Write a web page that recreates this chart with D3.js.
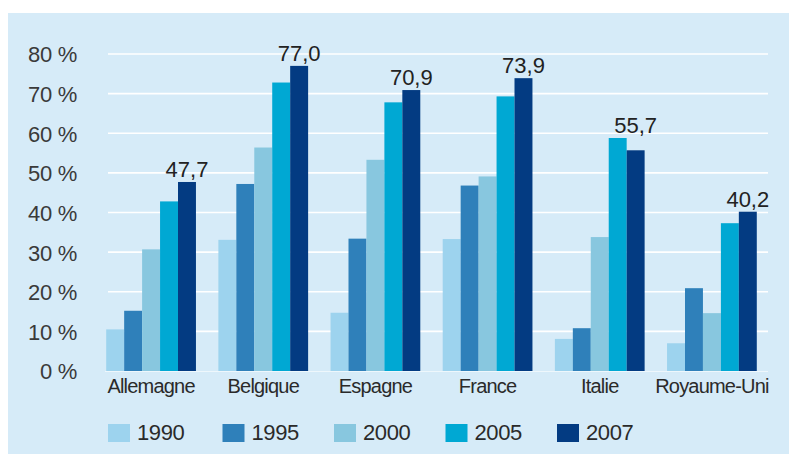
<!DOCTYPE html>
<html>
<head>
<meta charset="utf-8">
<script src="https://cdn.jsdelivr.net/npm/d3@7/dist/d3.min.js"></script>
<style>
  html, body { margin: 0; padding: 0; background: #ffffff; }
  svg { display: block; }
  text { font-family: "Liberation Sans", Arial, Helvetica, sans-serif; }
</style>
</head>
<body>
<div id="chart"></div>
<script>
const categories = ["Allemagne", "Belgique", "Espagne", "France", "Italie", "Royaume-Uni"];
const years = ["1990", "1995", "2000", "2005", "2007"];
const v1990 = [10.5, 33.1, 14.7, 33.3, 8.1, 7.0];
const v1995 = [15.2, 47.2, 33.4, 46.8, 10.8, 20.9];
const v2000 = [30.7, 56.4, 53.3, 49.1, 33.8, 14.6];
const v2005 = [42.8, 72.8, 67.8, 69.3, 58.8, 37.3];
const v2007 = [47.7, 77.0, 70.9, 73.9, 55.7, 40.2];
const valueLabels = ["47,7", "77,0", "70,9", "73,9", "55,7", "40,2"];
const yTicks = [0, 10, 20, 30, 40, 50, 60, 70, 80];
const colors = ["#9dd3ee", "#2f80ba", "#88c7df", "#00a8d3", "#033b82"];

const series = [v1990, v1995, v2000, v2005, v2007];
const W = 789, H = 454;

const svg = d3.select("#chart").append("svg").attr("width", W).attr("height", H);

// panel background
svg.append("rect").attr("x", 8).attr("y", 13).attr("width", W - 8).attr("height", H - 13).attr("fill", "#d6ebf8");

const y = d3.scaleLinear().domain([0, 80]).range([371, 54]);
const x0 = d3.scaleBand().domain(categories).range([95, 768]).paddingInner(0.2).paddingOuter(0.1);
const x1 = d3.scaleBand().domain(years).range([0, x0.bandwidth()]).padding(0);

// gridlines
svg.append("g").selectAll("line").data(yTicks.filter(t => t > 0)).join("line")
  .attr("x1", 108).attr("x2", 768)
  .attr("y1", d => y(d)).attr("y2", d => y(d))
  .attr("stroke", "#ffffff").attr("stroke-width", 1.6);

// y axis labels
const yAxis = d3.axisLeft(y).tickValues(yTicks).tickSize(0).tickPadding(0).tickFormat(d => d + " %");
const gy = svg.append("g").attr("transform", "translate(77,0)").call(yAxis);
gy.select(".domain").remove();
gy.selectAll("text").attr("font-size", 22).attr("fill", "#3a3a3a").attr("font-family", "Liberation Sans, Arial, sans-serif").style("letter-spacing", "-0.3px").attr("dy", "0.36em");

// bars
const groups = svg.append("g").selectAll("g").data(categories).join("g")
  .attr("transform", c => `translate(${x0(c)},0)`);
groups.selectAll("rect").data((c, i) => years.map((yr, j) => ({ yr, j, v: series[j][i] }))).join("rect")
  .attr("x", d => x1(d.yr))
  .attr("width", x1.bandwidth())
  .attr("y", d => y(d.v))
  .attr("height", d => y(0) - y(d.v))
  .attr("fill", d => colors[d.j]);

// value labels above 2007 bar
groups.append("text")
  .attr("x", x1("2007") + x1.bandwidth() / 2)
  .attr("y", (c, i) => y(d3.max(series, s => s[i])) - 5)
  .attr("text-anchor", "middle")
  .attr("font-size", 22)
  .attr("fill", "#222")
  .text((c, i) => valueLabels[i]);

// x axis (category labels)
const xAxis = d3.axisBottom(x0).tickSize(0).tickPadding(0);
const gx = svg.append("g").attr("transform", `translate(0,${y(0)})`).call(xAxis);
gx.select(".domain").remove();
gx.selectAll("text").attr("font-size", 20).attr("fill", "#2a2a2a").attr("font-family", "Liberation Sans, Arial, sans-serif").style("letter-spacing", "-0.8px").attr("y", 22).attr("dy", "0");
// baseline (light line at 0)
svg.append("line").attr("x1", 105).attr("x2", 768).attr("y1", y(0) + 0.5).attr("y2", y(0) + 0.5).attr("stroke", "#eef7fc").attr("stroke-width", 1);

// legend
const lx = d3.scalePoint().domain(years).range([111, 557]);
const leg = svg.append("g").selectAll("g").data(years).join("g")
  .attr("transform", (d, i) => `translate(${i === 0 ? 108 : lx(d)},424)`);
leg.append("rect").attr("width", 22).attr("height", 18).attr("fill", (d, i) => colors[i]);
leg.append("text").attr("x", 29).attr("y", 16).attr("font-size", 22).attr("fill", "#2a2a2a")
  .style("letter-spacing", "-0.4px")
  .text(d => d);
</script>
</body>
</html>
